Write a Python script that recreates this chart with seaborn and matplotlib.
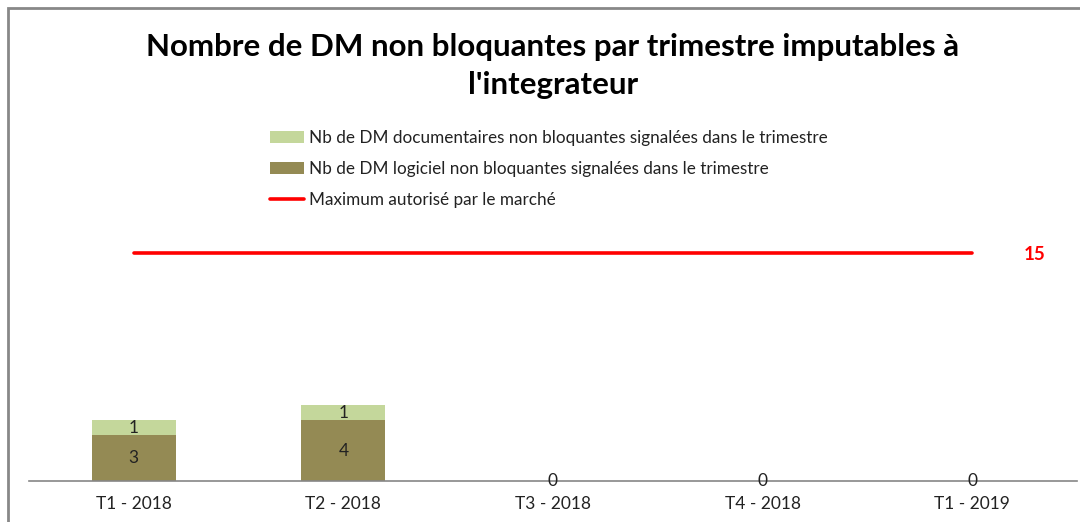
import matplotlib
matplotlib.use("Agg")
import matplotlib.pyplot as plt
import seaborn as sns
import pandas as pd
from matplotlib.patches import Patch, Rectangle
from matplotlib.lines import Line2D

categories = ["T1 - 2018", "T2 - 2018", "T3 - 2018", "T4 - 2018", "T1 - 2019"]
logiciel = [3, 4, 0, 0, 0]
documentaires = [1, 1, 0, 0, 0]
maximum = [15, 15, 15, 15, 15]

label_doc = "Nb de DM documentaires non bloquantes signalées dans le trimestre"
label_log = "Nb de DM logiciel non bloquantes signalées dans le trimestre"
label_max = "Maximum autorisé par le marché"
title = "Nombre de DM non bloquantes par trimestre imputables à\nl'integrateur"

c_doc = "#C4D79B"
c_log = "#948A54"
c_max = "#FF0000"

sns.set_theme(style="white")
plt.rcParams["font.family"] = ["Lato", "DejaVu Sans"]

df = pd.DataFrame({"cat": categories, "log": logiciel, "doc": documentaires,
                   "max": maximum})
df["total"] = df["log"] + df["doc"]
df["pos"] = range(len(df))

W, H = 1080, 522
fig = plt.figure(figsize=(W / 100, H / 100), dpi=100)
fig.patch.set_facecolor("white")

ax_left, ax_right, ax_bottom, ax_top = 29, 1077, 481, 237.8
ax = fig.add_axes([ax_left / W, (H - ax_bottom) / H,
                   (ax_right - ax_left) / W, (ax_bottom - ax_top) / H])

sns.barplot(data=df, x="cat", y="total", color=c_doc, width=0.4,
            saturation=1, ax=ax, order=categories, linewidth=0)
sns.barplot(data=df, x="cat", y="log", color=c_log, width=0.4,
            saturation=1, ax=ax, order=categories, linewidth=0)
sns.lineplot(x=df["pos"], y=df["max"], color=c_max, linewidth=2.6, ax=ax)

ax.set_xlim(-0.5, len(categories) - 0.5)
ax.set_ylim(0, 16)
ax.set_xlabel("")
ax.set_ylabel("")
ax.set_yticks([])
ax.set_xticks(range(len(categories)))
ax.set_xticklabels(categories, fontsize=12.5, color="#222222")
ax.tick_params(axis="x", length=0, pad=11)
for s in ["top", "right", "left"]:
    ax.spines[s].set_visible(False)
ax.spines["bottom"].set_color("#868686")
ax.spines["bottom"].set_linewidth(1.2)

for i, (lg, dc) in enumerate(zip(logiciel, documentaires)):
    ax.text(i, lg / 2, str(lg), ha="center", va="center", fontsize=12.5,
            color="#222222")
    if dc > 0:
        ax.text(i, lg + dc / 2, str(dc), ha="center", va="center",
                fontsize=12.5, color="#222222")

ax.annotate(str(maximum[-1]), xy=(len(categories) - 1, maximum[-1]),
            xytext=(62, -1), textcoords="offset pixels", ha="center",
            va="center", fontsize=13.5, fontweight="bold", color=c_max)

fig.text(553 / W, 1 - 66 / H, title, ha="center", va="center",
         fontsize=22.5, fontweight="bold", color="black", linespacing=1.4)

handles = [Patch(facecolor=c_doc, edgecolor="none"),
           Patch(facecolor=c_log, edgecolor="none"),
           Line2D([0], [0], color=c_max, linewidth=2.6)]
fig.legend(handles, [label_doc, label_log, label_max], loc="upper left",
           bbox_to_anchor=(256 / W, 1 - 116 / H), frameon=False,
           fontsize=12.3, handlelength=2.0, handletextpad=0.3,
           labelspacing=0.88, borderpad=0.3, labelcolor="#222222")

fig.add_artist(Rectangle((8 / W, -0.05), 1.2, 1 - 8 / H + 0.05,
                         transform=fig.transFigure, fill=False,
                         edgecolor="#888888", linewidth=2))

fig.savefig("out.png", dpi=100, facecolor="white")
